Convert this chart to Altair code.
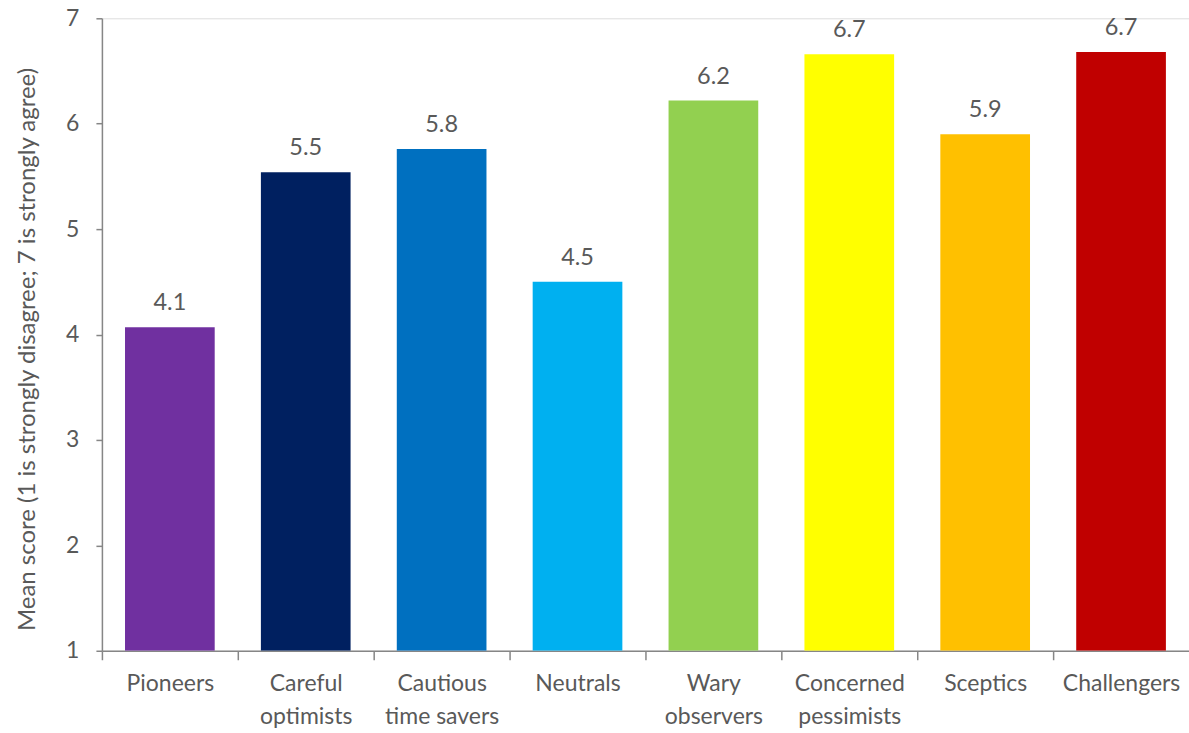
import altair as alt
import pandas as pd

categories = ["Pioneers", "Careful|optimists", "Cautious|time savers", "Neutrals",
              "Wary|observers", "Concerned|pessimists", "Sceptics", "Challengers"]
values = [4.07, 5.54, 5.76, 4.50, 6.22, 6.66, 5.90, 6.68]
colors = ["#7030A0", "#002060", "#0070C0", "#00B0F0", "#92D050", "#FFFF00", "#FFC000", "#C00000"]
y_ticks = [1, 2, 3, 4, 5, 6, 7]

df = pd.DataFrame({"cat": categories, "val": values, "col": colors})

FONT = "Lato"
TXT = "#595959"
AX = "#868686"

x = alt.X("cat:N", sort=categories,
          scale=alt.Scale(paddingInner=0.34, paddingOuter=0.17),
          axis=alt.Axis(title=None, labelAngle=0, labelExpr="split(datum.label, '|')",
                        labelFont=FONT, labelFontSize=23, labelColor=TXT,
                        labelLineHeight=33, labelPadding=13,
                        bandPosition=0, tickOffset=-23, labelOffset=23,
                        tickSize=9, tickColor=AX, tickWidth=1.5,
                        domainColor=AX, domainWidth=1.5))
y = alt.Y("val:Q", scale=alt.Scale(domain=[1, 7], nice=False, zero=False),
          axis=alt.Axis(values=y_ticks, format="d",
                        title="Mean score (1 is strongly disagree; 7 is strongly agree)",
                        grid=False, labelFont=FONT, labelFontSize=23, labelColor=TXT,
                        labelPadding=17, tickSize=6, tickColor=AX, tickWidth=1.5,
                        domainColor=AX, domainWidth=1.5,
                        titleFont=FONT, titleFontSize=24, titleFontWeight="normal",
                        titleColor=TXT, titleX=-74, titleY=331, titleAngle=-90,
                        titleAlign="center", titleBaseline="middle"))

bars = alt.Chart(df).mark_bar(clip=True).encode(
    x=x, y=y, y2=alt.datum(1),
    color=alt.Color("col:N", scale=None),
)
labels = alt.Chart(df).mark_text(font=FONT, fontSize=23.5, color=TXT, dy=-17,
                                 baseline="alphabetic").encode(
    x=alt.X("cat:N", sort=categories), y=alt.Y("val:Q"),
    text=alt.Text("val:Q", format=".1f"),
)

chart = (bars + labels).properties(
    width=1088, height=633,
    autosize=alt.AutoSizeParams(type="none"),
    padding={"left": 102, "top": 18, "right": 0, "bottom": 82},
).configure_view(stroke=None).configure(background="white")

chart.save("out.html", embed_options={"renderer": "svg", "actions": False})
